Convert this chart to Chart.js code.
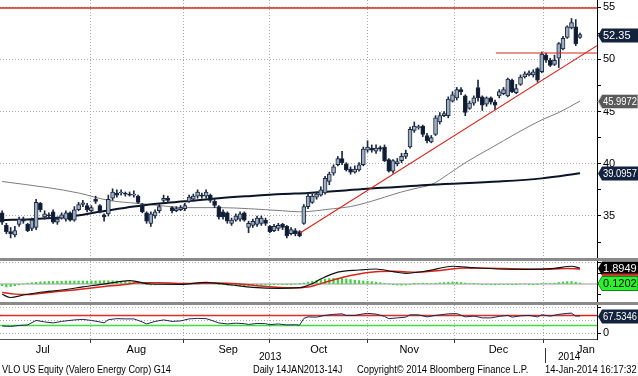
<!DOCTYPE html>
<html>
<head>
<meta charset="utf-8">
<script src="https://cdn.jsdelivr.net/npm/chart.js@4.4.0/dist/chart.umd.min.js"></script>
<style>
html, body { margin: 0; padding: 0; background: #fff; }
#wrap { position: relative; width: 638px; height: 376px; overflow: hidden; background: #fff;
        font-family: "Liberation Sans", Arial, sans-serif; }
#wrap canvas { position: absolute; left: 0; }
.sep { position: absolute; left: 0; width: 638px; height: 3px; background: #8a8a8a; }
.txt { position: absolute; font-size: 11px; line-height: 12px; color: #000; white-space: nowrap;
       transform-origin: 0 0; }
</style>
</head>
<body>
<div id="wrap">
  <canvas id="cPrice" width="638" height="258" style="top:0"></canvas>
  <canvas id="cMacd" width="638" height="41" style="top:261px"></canvas>
  <canvas id="cRsi" width="638" height="71" style="top:305px"></canvas>
  <div class="sep" style="top:258px"></div>
  <div class="sep" style="top:302px"></div>
  <div class="txt" data-w="22" style="left:259px;top:350px">2013</div>
  <div style="position:absolute;left:545px;top:348px;width:1px;height:15px;background:#333"></div>
  <div class="txt" data-w="22" style="left:558px;top:350px">2014</div>
  <div class="txt" data-w="169" style="left:2px;top:363px">VLO US Equity (Valero Energy Corp) G14</div>
  <div class="txt" data-w="89" style="left:253px;top:363px">Daily 14JAN2013-14J</div>
  <div class="txt" data-w="171" style="left:357px;top:363px">Copyright© 2014 Bloomberg Finance L.P.</div>
  <div class="txt" data-w="92" style="left:545px;top:363px">14-Jan-2014 16:17:32</div>
</div>
<script>
// Réglages globaux
Chart.defaults.font.family = '"Liberation Sans", Arial, sans-serif';
Chart.defaults.font.size = 11;
Chart.defaults.color = '#000';
Chart.defaults.animation = false;

// ---- données (jours de bourse, index 0 = 1er juillet 2013) ----
const monthNames   = ['Jul', 'Aug', 'Sep', 'Oct', 'Nov', 'Dec', 'Jan'];
const monthCenters = [9.55, 31.6, 53.2, 74.5, 95.8, 116.8, 137.4];
const monthStarts  = [20.7, 42.8, 63, 86.1, 106.4, 127.3];
const priceTicks   = [32.5, 35, 37.5, 40, 42.5, 45, 47.5, 50, 52.5, 55];

const opens = [
  35.3, 34.1, 33.5, 33.2, 34.2, 34.7, 34.2, 33.8, 33.9, 36.2,
  34.9, 35.1, 35.4, 34.4, 34.8, 34.7, 35.3, 34.6, 35.6, 36.1,
  36.0, 35.5, 36.6, 36.0, 35.1, 35.2, 36.7, 37.2, 37.2, 37.2,
  37.1, 37.0, 36.9, 36.1, 35.3, 34.3, 35.0, 35.5, 36.5, 36.7,
  35.8, 35.5, 35.6, 35.7, 36.4, 36.6, 36.9, 37.0, 36.9, 37.0,
  36.4, 35.9, 35.4, 35.3, 34.3, 34.6, 34.7, 35.3, 33.9, 34.1,
  34.2, 34.3, 34.6, 34.0, 33.6, 33.8, 34.2, 34.0, 33.3, 33.6,
  33.5, 34.3, 35.9, 36.3, 36.8, 37.0, 37.2, 38.3, 39.1, 39.9,
  40.5, 40.0, 39.5, 39.2, 39.4, 39.9, 41.3, 41.5, 41.2, 41.55,
  41.6, 40.4, 39.3, 40.0, 40.3, 40.7, 41.6, 43.2, 43.45, 43.6,
  42.7, 42.1, 42.8, 44.0, 44.6, 44.6, 46.0, 46.3, 47.1, 46.5,
  45.3, 45.8, 47.3, 46.4, 45.7, 46.3, 45.9, 46.5, 46.7, 46.5,
  48.0, 46.8, 47.6, 48.3, 48.5, 48.5, 49.1, 48.8, 50.4, 49.9,
  49.5, 50.1, 51.0, 52.1, 53.0, 53.1, 52.1
];
const highs = [
  35.5, 34.3, 33.9, 34.0, 34.9, 34.9, 34.3, 34.8, 36.6, 36.3,
  35.5, 35.3, 35.6, 34.9, 35.3, 35.5, 35.4, 35.9, 36.3, 36.5,
  36.2, 36.0, 36.9, 36.1, 35.2, 37.0, 37.6, 37.5, 37.5, 37.3,
  37.3, 37.4, 37.0, 36.2, 35.4, 35.4, 35.6, 36.1, 37.0, 36.9,
  35.9, 35.9, 36.0, 36.2, 37.0, 37.1, 37.5, 37.2, 37.5, 37.1,
  36.6, 36.0, 35.6, 35.4, 34.8, 35.2, 35.4, 35.4, 34.5, 34.7,
  35.0, 35.0, 34.8, 34.1, 34.2, 34.3, 34.3, 34.1, 33.9, 33.8,
  33.6, 36.1, 37.2, 37.1, 37.3, 37.8, 38.8, 39.2, 39.9, 40.7,
  41.2, 40.1, 39.7, 39.8, 40.1, 41.6, 42.2, 41.8, 41.8, 41.7,
  41.8, 40.5, 40.4, 40.5, 41.0, 41.3, 43.5, 44.0, 43.7, 43.7,
  42.9, 42.7, 44.6, 44.9, 45.0, 46.4, 46.9, 47.3, 47.3, 46.6,
  46.0, 46.5, 48.0, 46.5, 46.4, 46.4, 46.1, 47.1, 47.3, 48.2,
  48.1, 47.6, 48.5, 48.8, 48.9, 49.0, 49.2, 50.7, 50.6, 50.1,
  50.4, 51.6, 52.2, 53.2, 53.9, 53.8, 52.5
];
const lows = [
  34.2, 33.3, 32.9, 33.0, 34.0, 34.3, 33.5, 33.6, 33.7, 35.4,
  34.7, 34.8, 34.3, 34.2, 34.7, 34.5, 34.5, 34.5, 35.5, 35.9,
  35.4, 35.3, 36.2, 35.3, 34.5, 35.0, 36.5, 36.8, 37.0, 36.9,
  36.9, 36.8, 36.2, 35.3, 34.3, 34.0, 34.8, 35.3, 36.3, 36.3,
  35.3, 35.4, 35.5, 35.5, 36.3, 36.4, 36.7, 36.7, 36.7, 36.3,
  35.8, 34.7, 34.7, 34.3, 34.1, 34.5, 34.5, 34.5, 33.4, 33.9,
  34.0, 34.1, 34.1, 33.4, 33.5, 33.6, 33.7, 32.9, 33.2, 33.1,
  33.0, 34.2, 35.7, 36.2, 36.6, 36.9, 37.1, 38.0, 38.9, 39.8,
  39.9, 39.3, 39.0, 39.1, 39.3, 39.8, 41.1, 41.1, 41.0, 41.2,
  40.2, 39.2, 39.1, 39.8, 40.1, 40.5, 41.5, 43.0, 43.3, 42.6,
  42.0, 42.0, 42.7, 43.8, 44.5, 44.4, 45.9, 46.1, 46.6, 44.6,
  45.2, 45.6, 46.0, 45.1, 45.5, 45.7, 45.2, 46.3, 46.6, 46.4,
  46.8, 46.7, 47.5, 48.2, 48.4, 48.3, 47.8, 48.7, 49.7, 49.3,
  49.4, 49.2, 50.9, 52.0, 52.9, 51.3, 52.0
];
const closes = [
  34.4, 33.5, 33.3, 33.6, 34.7, 34.5, 33.6, 34.6, 36.3, 35.6,
  35.2, 35.0, 34.4, 34.7, 35.1, 35.3, 34.6, 35.6, 36.1, 36.25,
  35.6, 35.8, 36.4, 35.4, 34.9, 36.6, 37.3, 37.0, 37.3, 37.1,
  37.0, 37.1, 36.3, 35.4, 34.5, 35.2, 35.4, 35.9, 36.7, 36.5,
  35.5, 35.7, 35.8, 36.0, 36.8, 36.9, 37.3, 36.9, 37.3, 36.5,
  36.0, 34.9, 34.9, 34.5, 34.6, 35.0, 35.2, 34.6, 34.3, 34.5,
  34.8, 34.8, 34.3, 33.5, 34.0, 34.1, 33.9, 33.1, 33.7, 33.3,
  33.1, 35.9, 36.9, 36.9, 37.1, 37.5, 38.6, 39.0, 39.7, 40.5,
  40.1, 39.4, 39.2, 39.5, 39.9, 41.4, 41.6, 41.3, 41.5, 41.4,
  40.3, 39.3, 40.3, 40.2, 40.7, 41.0, 43.3, 43.6, 43.55, 42.8,
  42.2, 42.5, 44.4, 44.6, 44.8, 46.2, 46.6, 47.1, 46.9, 44.9,
  45.8, 46.3, 46.3, 45.6, 46.3, 45.9, 45.6, 46.9, 47.1, 48.1,
  46.9, 47.2, 48.3, 48.6, 48.7, 48.8, 48.0, 50.5, 49.9, 49.4,
  49.9, 51.5, 52.0, 53.1, 53.5, 51.5, 52.35
];

// moyennes mobiles [jour, valeur]
const ma50Pts = [
  [0, 38.3], [11, 37.7], [18, 37.2], [25, 36.5], [32, 36.2], [37, 36.0], [43, 35.8],
  [51, 35.8], [58, 35.7], [66, 35.5], [70, 35.4], [78, 35.7], [82, 35.9], [86, 36.3],
  [90, 36.8], [94, 37.3], [98, 37.7], [101, 38.0], [105, 39.0], [109, 40.1], [115, 41.5],
  [121, 42.9], [127, 44.2], [131, 44.9], [136, 45.9972]
];
const ma200Pts = [
  [0, 34.6], [7, 34.7], [15, 34.9], [23, 35.4], [31, 35.9], [37, 36.2], [43, 36.4],
  [51, 36.7], [58, 36.9], [66, 37.1], [72, 37.2], [86, 37.6], [101, 38.0], [117, 38.3],
  [127, 38.6], [136, 39.0957]
];

// niveaux tracés à la main
const topLevel = 54.9;
const breakoutLevel = 50.6;
const breakoutFrom = 116.2;
const trendStart = [70.1, 33.37];
const trendEnd = [140, 51.3];

// MACD
const macdPts = [
  [0, -1.22], [2, -1.6], [5, -1.3], [9, -0.98], [14, -0.71], [19, -0.35], [25, 0.08],
  [30, 0.39], [35, 0.0], [42, -0.04], [48, 0.2], [54, -0.12], [59, -0.39], [65, -0.51],
  [70, -0.44], [73, 0.05], [75, 0.59], [79, 1.4], [84, 1.66], [88, 1.78], [92, 1.46],
  [95, 1.27], [100, 1.55], [106, 2.1], [111, 1.93], [117, 1.78], [124, 1.74], [130, 1.86],
  [134, 2.1], [136, 1.8949]
];
const signalPts = [
  [0, -1.0], [3, -1.2], [6, -1.25], [11, -1.0], [17, -0.7], [23, -0.35], [29, -0.05],
  [32, 0.15], [37, 0.15], [44, 0.05], [50, 0.12], [56, 0.0], [62, -0.3], [68, -0.45],
  [72, -0.35], [77, 0.35], [82, 1.0], [88, 1.45], [92, 1.5], [97, 1.4], [103, 1.6],
  [109, 1.9], [115, 1.88], [122, 1.78], [129, 1.76], [133, 1.85], [136, 1.7747]
];
const histVals = [
  -0.2, -0.35, -0.3, -0.2, -0.1, 0.0,
  0.1, 0.15, 0.2, 0.25, 0.28, 0.3, 0.3, 0.32, 0.33, 0.35, 0.35, 0.36, 0.36, 0.35, 0.35,
  0.36, 0.37, 0.38, 0.4, 0.4, 0.38, 0.35, 0.3, 0.28, 0.24,
  0.18, 0.1, 0.02, -0.08, -0.12,
  -0.1, -0.08, -0.02, 0.02, 0.0, -0.04, -0.02, 0.02, 0.06, 0.08, 0.1, 0.12, 0.1, 0.06, 0.02, -0.04, -0.08, -0.12, -0.14,
  -0.16, -0.18, -0.2, -0.2, -0.18, -0.16, -0.14, -0.12, -0.1, -0.08, -0.06, -0.05, -0.04, -0.02, 0.0, 0.02,
  0.12, 0.22, 0.32, 0.42, 0.5, 0.58, 0.64, 0.68, 0.7, 0.66, 0.6, 0.52,
  0.45, 0.4, 0.36, 0.32, 0.28, 0.22, 0.16, 0.08, 0.0,
  -0.08, -0.12, -0.14, -0.12, -0.06, 0.02, 0.08,
  0.1, 0.08, 0.06, 0.1, 0.14, 0.18, 0.22, 0.24, 0.22, 0.18, 0.12, 0.06, 0.02, 0.0,
  -0.04, -0.08, -0.1, -0.1, -0.08, -0.06, -0.04, -0.04, -0.02, 0.0, 0.0, -0.02, -0.04, -0.02,
  0.04, 0.06, 0.06, 0.1, 0.18, 0.24, 0.28, 0.3, 0.22, 0.1202
];

// RSI
const rsiPts = [
  [0, 28], [2, 26], [4, 30], [6, 32], [8, 50], [10, 44], [12, 40], [14, 46], [17, 52],
  [19, 54], [21, 50], [23, 44], [24, 40], [25, 53], [27, 57], [29, 56], [31, 56], [33, 44],
  [34, 36], [36, 46], [38, 52], [40, 46], [42, 48], [44, 56], [46, 58], [48, 57], [49, 52],
  [51, 40], [53, 36], [55, 39], [57, 37], [58, 34], [60, 38], [62, 37], [63, 33], [65, 36],
  [67, 32], [69, 33], [70, 31], [71, 58], [72, 64], [74, 63], [76, 70], [78, 74], [80, 76],
  [81, 70], [83, 70], [85, 76], [86, 78], [88, 75], [90, 66], [91, 57], [93, 60], [95, 63],
  [96, 72], [98, 72], [100, 64], [102, 70], [105, 76], [107, 77], [109, 64], [111, 67],
  [112, 64], [113, 60], [115, 60], [117, 66], [119, 70], [120, 63], [122, 68], [124, 70],
  [126, 64], [127, 72], [129, 67], [131, 74], [133, 78], [134, 79], [135, 67], [136, 67.5346]
];
const rsiHigh = 70;
const rsiLow = 30;

// ---- style ----
const X_MIN = -0.5, X_MAX = 140;
const GRID = '#a9a9a9';
const RED = '#d8241c';
const NAVY = '#13223d';
const UP_FILL = '#9eacbf';
const DOWN_FILL = '#0e1a30';
const CANDLE_EDGE = '#1b2942';
const CLEAR = 'rgba(0,0,0,0)';

const pts = arr => arr.map(p => ({ x: p[0], y: p[1] }));
const hline = (v, from) => [{ x: from === undefined ? X_MIN : from, y: v }, { x: X_MAX, y: v }];

function monthAxis(withLabels) {
    return {
        type: 'linear', min: X_MIN, max: X_MAX, offset: false,
        afterBuildTicks: s => {
            const vals = withLabels ? monthStarts.concat(monthCenters) : monthStarts.slice();
            s.ticks = vals.sort((a, b) => a - b).map(v => ({ value: v }));
        },
        afterFit: s => { s.height = withLabels ? 37 : 0; s.paddingLeft = 0; s.paddingRight = 0; },
        grid: {
            offset: false, lineWidth: 1,
            color: c => (c.tick && monthStarts.includes(c.tick.value)) ? GRID : CLEAR,
            drawTicks: withLabels, tickLength: 4,
            tickColor: c => (c.tick && monthStarts.includes(c.tick.value)) ? '#333' : CLEAR
        },
        border: { display: withLabels, color: '#555', width: 1, dash: [1, 2] },
        ticks: {
            display: withLabels, autoSkip: false, maxRotation: 0, padding: 0,
            callback: v => { const k = monthCenters.indexOf(v); return k >= 0 ? monthNames[k] : ''; }
        }
    };
}

function rightAxis(min, max, ticks, gridFn, labelFn, tickColorFn) {
    return {
        type: 'linear', position: 'right', min: min, max: max, beginAtZero: false,
        afterBuildTicks: s => { s.ticks = ticks.map(v => ({ value: v })); },
        afterFit: s => { s.width = 41; s.paddingTop = 0; s.paddingBottom = 0; },
        grid: { color: gridFn, lineWidth: 1, drawTicks: true, tickLength: 4, tickColor: tickColorFn || '#000' },
        border: { display: true, color: '#000', width: 1, dash: [1, 2] },
        ticks: { autoSkip: false, padding: 2, callback: labelFn }
    };
}

// étiquettes de valeur à droite (style Bloomberg)
function tagPlugin(items) {
    return {
        id: 'tags',
        afterDraw(chart) {
            const { ctx, chartArea } = chart;
            const scale = chart.scales.y;
            items.forEach(t => {
                const y = Math.round(scale.getPixelForValue(t.value)) + 0.5;
                const x0 = chartArea.right + 1, x1 = chart.width, h = 14, tip = 4;
                ctx.save();
                ctx.beginPath();
                ctx.moveTo(x0, y);
                ctx.lineTo(x0 + tip, y - h / 2);
                ctx.lineTo(x1, y - h / 2);
                ctx.lineTo(x1, y + h / 2);
                ctx.lineTo(x0 + tip, y + h / 2);
                ctx.closePath();
                ctx.fillStyle = t.bg;
                ctx.fill();
                if (t.edge) { ctx.strokeStyle = t.edge; ctx.lineWidth = 1; ctx.stroke(); }
                if (t.stripe) { ctx.fillStyle = t.stripe; ctx.fillRect(x0 + tip, y + h / 2 - 2, x1 - x0 - tip, 2); }
                ctx.fillStyle = t.fg || '#fff';
                ctx.font = '11px "Liberation Sans", Arial, sans-serif';
                ctx.textBaseline = 'middle';
                ctx.textAlign = 'left';
                const tx = x0 + tip + 1;
                ctx.fillText(String(t.value), tx, y + 0.5, x1 - tx - 1);
                ctx.restore();
            });
        }
    };
}

const baseOptions = () => ({
    responsive: false,
    devicePixelRatio: 1,
    animation: false,
    events: [],
    layout: { padding: 0 },
    plugins: { legend: { display: false }, tooltip: { enabled: false } }
});

// ---- graphique des cours ----
const bodies = closes.map((c, i) => ({ x: i, y: [opens[i], c] }));
const wicks = closes.map((c, i) => ({ x: i, y: [lows[i], highs[i]] }));

new Chart(document.getElementById('cPrice'), {
    type: 'bar',
    data: {
        datasets: [
            { type: 'line', data: hline(topLevel), borderColor: RED, borderWidth: 1.5, pointRadius: 0, order: 0 },
            { type: 'line', data: [{ x: trendStart[0], y: trendStart[1] }, { x: trendEnd[0], y: trendEnd[1] }],
              borderColor: RED, borderWidth: 1.2, pointRadius: 0, order: 0 },
            { type: 'line', data: hline(breakoutLevel, breakoutFrom), borderColor: RED, borderWidth: 1.2, pointRadius: 0, order: 0 },
            { type: 'bar', data: bodies, grouped: false, barThickness: 4, borderWidth: 1, borderSkipped: false,
              minBarLength: 1,
              backgroundColor: closes.map((c, i) => c >= opens[i] ? UP_FILL : DOWN_FILL),
              borderColor: CANDLE_EDGE, order: 1 },
            { type: 'bar', data: wicks, grouped: false, barThickness: 1, backgroundColor: CANDLE_EDGE, order: 2 },
            { type: 'line', data: pts(ma200Pts), borderColor: '#0b1426', borderWidth: 2, pointRadius: 0,
              cubicInterpolationMode: 'monotone', order: 3 },
            { type: 'line', data: pts(ma50Pts), borderColor: '#7d7d7d', borderWidth: 1, pointRadius: 0,
              cubicInterpolationMode: 'monotone', order: 3 }
        ]
    },
    options: Object.assign(baseOptions(), {
        scales: {
            x: monthAxis(false),
            y: rightAxis(30.98, 55.67, priceTicks,
                c => (c.tick && c.tick.value % 5 === 0) ? GRID : CLEAR,
                v => v % 5 === 0 ? String(v) : '')
        }
    }),
    plugins: [tagPlugin([
        { value: closes[closes.length - 1], bg: NAVY },
        { value: ma50Pts[ma50Pts.length - 1][1], bg: '#5a5a5a', edge: '#d0d0d0' },
        { value: ma200Pts[ma200Pts.length - 1][1], bg: NAVY }
    ])]
});

// ---- MACD ----
new Chart(document.getElementById('cMacd'), {
    type: 'bar',
    data: {
        datasets: [
            { type: 'line', data: pts(macdPts), borderColor: '#111', borderWidth: 1.2, pointRadius: 0,
              cubicInterpolationMode: 'monotone', order: 0 },
            { type: 'line', data: pts(signalPts), borderColor: RED, borderWidth: 1.5, pointRadius: 0,
              cubicInterpolationMode: 'monotone', order: 1 },
            { type: 'bar', data: histVals.map((v, i) => ({ x: i, y: v })), grouped: false, barThickness: 1.5,
              backgroundColor: '#3bd23b', order: 2 },
            { type: 'line', data: hline(0), borderColor: '#9a9a9a', borderWidth: 1, pointRadius: 0, order: 3 }
        ]
    },
    options: Object.assign(baseOptions(), {
        scales: {
            x: monthAxis(false),
            y: rightAxis(-2.133, 2.725, [-1.25, 0, 1.25, 2.5],
                c => (c.tick && c.tick.value === 2.5) ? GRID : CLEAR,
                () => '')
        }
    }),
    plugins: [tagPlugin([
        { value: macdPts[macdPts.length - 1][1], bg: '#000', stripe: RED },
        { value: histVals[histVals.length - 1], bg: '#2cf22c', fg: '#000', edge: '#118811' }
    ])]
});

// ---- RSI ----
new Chart(document.getElementById('cRsi'), {
    type: 'line',
    data: {
        datasets: [
            { data: pts(rsiPts), borderColor: '#1d2750', borderWidth: 1, pointRadius: 0, order: 0,
              fill: { target: { value: rsiHigh }, above: 'rgba(232,150,165,0.55)', below: CLEAR } },
            { data: hline(rsiHigh), borderColor: RED, borderWidth: 1.5, pointRadius: 0, order: 1 },
            { data: hline(rsiLow), borderColor: '#3fe03f', borderWidth: 1.5, pointRadius: 0, order: 1 }
        ]
    },
    options: Object.assign(baseOptions(), {
        scales: {
            x: monthAxis(true),
            y: rightAxis(-23.8, 111.2, [0, 50, 100],
                () => GRID,
                v => v === 0 ? '0' : '',
                c => (c.tick && c.tick.value === 50) ? CLEAR : '#000')
        }
    }),
    plugins: [tagPlugin([
        { value: rsiPts[rsiPts.length - 1][1], bg: NAVY }
    ])]
});

// pied de page : ajuste la largeur de chaque texte
document.querySelectorAll('.txt[data-w]').forEach(el => {
    const w = parseFloat(el.dataset.w);
    el.style.transform = 'scaleX(' + (w / el.offsetWidth).toFixed(3) + ')';
});
</script>
</body>
</html>
